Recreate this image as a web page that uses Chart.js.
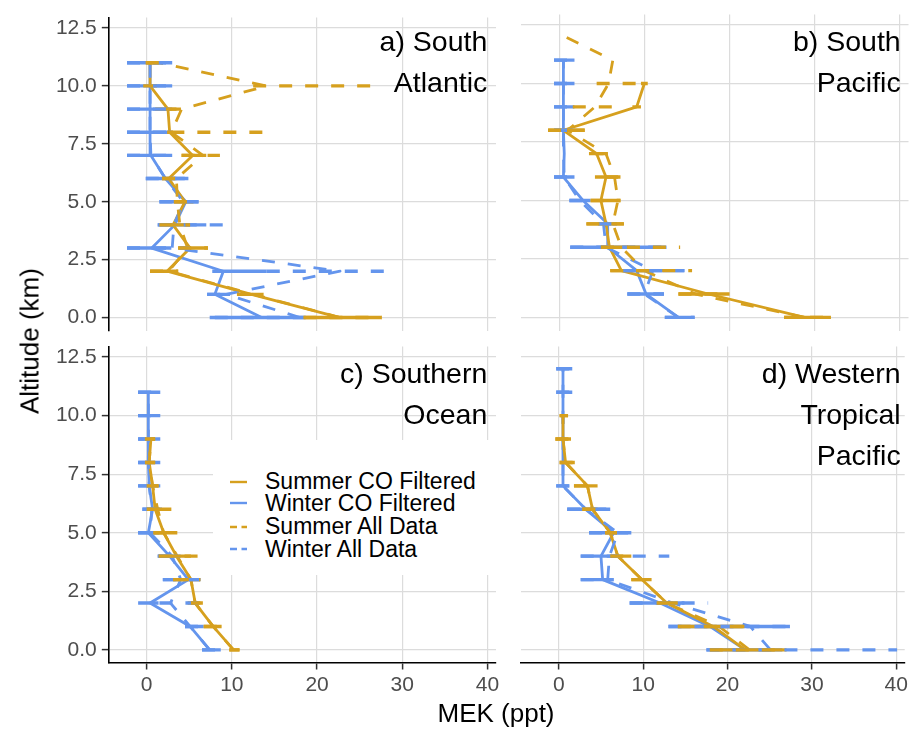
<!DOCTYPE html>
<html lang="en">
<head>
<meta charset="UTF-8">
<title>MEK vertical profiles</title>
<script src="https://cdn.jsdelivr.net/npm/chart.js"></script>
<style>
  body { margin: 0; background: #fff; font-family: "Liberation Sans", Arial, sans-serif; }
  #fig { position: relative; width: 911px; height: 740px; overflow: hidden; }
  #fig canvas { position: absolute; left: 0; top: 0; }
  .tag { position: absolute; text-align: right; font-size: 28.5px; line-height: 41px; color: #000; white-space: nowrap; }
  #ytitle { position: absolute; left: 30px; top: 341px; transform: translate(-50%, -50%) rotate(-90deg); font-size: 26px; white-space: nowrap; color: #000; }
  #xtitle { position: absolute; left: 496px; top: 713px; transform: translate(-50%, -50%); font-size: 26px; white-space: nowrap; color: #000; }
  #legend { position: absolute; left: 213px; top: 440px; width: 284px; height: 135px; background: #fff; }
  .row { position: absolute; left: 0; height: 22.5px; display: flex; align-items: center; font-size: 23px; color: #000; white-space: nowrap; }
  .row svg { margin-left: 17px; margin-right: 18px; }
</style>
</head>
<body>
<div id="fig">
  <canvas id="pa" width="911" height="740"></canvas>
  <canvas id="pb" width="911" height="740"></canvas>
  <canvas id="pc" width="911" height="740"></canvas>
  <canvas id="pd" width="911" height="740"></canvas>
  <div id="ytitle">Altitude (km)</div>
  <div id="xtitle">MEK (ppt)</div>
  <div id="legend"></div>
</div>

<script>
// altitude bins (km); every series array below is indexed by these
const altitudes = [0, 1, 2, 3, 4, 5, 6, 7, 8, 9, 10, 11, 12];
const xTicks = [0, 10, 20, 30, 40];
const yTicks = [0, 2.5, 5, 7.5, 10, 12.5];
const seriesLabels = ['Summer CO Filtered', 'Winter CO Filtered', 'Summer All Data', 'Winter All Data'];
const panelTitles = [['a) South', 'Atlantic'], ['b) South', 'Pacific'], ['c) Southern', 'Ocean'], ['d) Western', 'Tropical', 'Pacific']];

// a) South Atlantic
const atlSumFilt   = [22.7, 12.3, 2.4, 5.1, 3.1, 4.5, 2.6, 5.4, 2.7, 2.5, 0.4, 0.4, null];
const atlSumFiltLo = [18.4, 10.6, 0.4, 3.7, 1.5, 3.2, 1.8, 4.1, 2.4, 1.0, -0.4, -0.1, null];
const atlSumFiltHi = [27.6, 13.7, 3.7, 7.2, 5.1, 5.5, 3.5, 7.0, 3.1, 3.5, 1.2, 1.5, null];
const atlWinFilt   = [13.5, 8.0, 9.0, 0.6, 3.3, 4.6, 2.2, 0.5, 0.4, 0.4, 0.4, 0.4, null];
const atlWinFiltLo = [7.4, 7.1, 7.7, -2.3, 1.3, 1.5, -0.1, -2.3, -2.3, -2.3, -2.3, -2.3, null];
const atlWinFiltHi = [18.4, 9.8, 14.1, 2.9, 7.0, 6.1, 4.9, 3.0, 3.0, 3.0, 3.0, 3.0, null];
const atlSumAll    = [22.7, 12.5, 2.6, 4.8, 3.9, 3.6, 3.5, 6.6, 2.9, 4.1, 14.1, 1.4, null];
const atlSumAllLo  = [18.4, 10.6, 0.4, 3.7, 1.5, 3.2, 1.8, 4.1, 2.9, 2.5, 12.5, -0.1, null];
const atlSumAllHi  = [27.6, 13.7, 3.7, 7.2, 5.1, 5.5, 3.5, 8.6, 14.9, 4.3, 26.5, 1.5, null];
const atlWinAll    = [18.0, 9.3, 22.7, 3.0, 3.2, 4.3, 2.2, 0.5, 0.4, 0.4, 0.4, 0.4, null];
const atlWinAllLo  = [8.0, 7.1, 14.1, -2.3, 1.3, 1.5, -0.1, -2.3, -2.3, -2.3, -2.3, -2.3, null];
const atlWinAllHi  = [19.0, 9.8, 28.2, 5.1, 9.6, 6.1, 4.9, 3.0, 3.0, 3.0, 3.0, 3.0, null];

// b) South Pacific
const pacSumFilt   = [28.8, 17.5, 7.3, 5.9, 5.5, 4.9, 5.5, 4.4, 0.5, 9.1, 10.0, null, null];
const pacSumFiltLo = [26.4, 14.0, 6.0, 4.9, 3.2, 3.7, 4.2, 3.5, -1.3, 8.6, 9.6, null, null];
const pacSumFiltHi = [31.9, 20.0, 10.0, 8.1, 7.6, 7.2, 7.2, 5.2, 3.0, 9.6, 10.4, null, null];
const pacWinFilt   = [14.0, 10.2, 9.1, 5.7, 5.7, 2.8, 0.5, 0.6, 0.5, 0.5, 0.5, 0.5, null];
const pacWinFiltLo = [12.4, 8.0, 7.5, 1.3, 4.6, 1.2, -0.6, null, -0.6, -0.6, -0.6, -0.6, null];
const pacWinFiltHi = [15.9, 12.3, 14.7, 12.6, 6.8, 3.7, 1.8, null, 1.8, 1.8, 1.8, 1.8, null];
const pacSumAll    = [28.8, 16.0, 10.0, 7.3, 6.3, 6.9, 6.5, 5.5, 1.0, 4.2, 5.8, 6.3, 0.7];
const pacSumAllLo  = [26.4, 14.0, 6.0, 4.9, 3.2, 3.7, 5.4, 4.2, -1.3, 1.6, 4.4, null, null];
const pacSumAllHi  = [31.9, 20.0, 15.6, 14.2, 7.6, 7.2, 7.2, 7.2, 3.0, 7.3, 10.0, null, null];
const pacWinAll    = [14.0, 10.0, 11.0, 5.5, 5.2, 2.4, 0.6, 0.5, 0.5, 0.5, 0.5, 0.5, null];
const pacWinAllLo  = [12.4, 8.0, 7.5, 1.3, 4.6, 1.2, -0.6, null, -0.6, -0.6, -0.6, -0.6, null];
const pacWinAllHi  = [15.9, 12.3, 14.7, 12.6, 6.8, 3.7, 1.8, null, 1.8, 1.8, 1.8, 1.8, null];

// c) Southern Ocean
const socSumFilt   = [10.2, 7.8, 5.7, 5.2, 3.5, 2.0, 1.0, 0.7, 0.3, 0.5, null, null, null];
const socSumFiltLo = [9.7, 6.7, 4.8, 3.1, 1.4, 0.8, 0.0, 0.0, -0.2, -0.2, null, null, null];
const socSumFiltHi = [10.9, 8.8, 6.6, 6.3, 5.2, 3.6, 2.9, 1.4, 1.0, 1.0, null, null, null];
const socWinFilt   = [7.4, 5.1, 0.4, 4.9, 2.7, 0.2, 0.7, 0.3, 0.2, 0.2, 0.2, 0.2, null];
const socWinFiltLo = [6.5, 4.5, -1.0, 1.9, 1.3, -1.0, -0.5, -1.0, -1.0, -1.0, -1.0, -1.0, null];
const socWinFiltHi = [8.7, 6.7, 1.4, 6.3, 4.0, 1.5, 1.8, 1.6, 1.6, 1.6, 1.6, 1.6, null];
const socSumAll    = [10.2, 7.8, 5.7, 5.2, 3.6, 2.0, 1.3, 0.7, 0.3, 0.5, null, null, null];
const socSumAllLo  = [9.7, 6.7, 5.2, 3.1, 1.4, 0.8, 0.0, 0.0, -0.2, -0.2, null, null, null];
const socSumAllHi  = [10.9, 8.8, 6.3, 6.3, 6.5, 3.6, 2.9, 1.4, 1.0, 1.0, null, null, null];
const socWinAll    = [7.4, 5.1, 2.8, 4.0, 3.0, 0.4, 0.6, 0.3, 0.2, 0.2, 0.2, 0.2, null];
const socWinAllLo  = [6.5, 4.5, 1.5, 1.9, 1.3, -1.0, -0.5, -1.0, -1.0, -1.0, -1.0, -1.0, null];
const socWinAllHi  = [8.7, 6.7, 7.4, 6.3, 4.0, 1.5, 1.8, 1.6, 1.6, 1.6, 1.6, 1.6, null];

// d) Western Tropical Pacific
const wtpSumFilt   = [22.1, 18.3, 12.8, 9.85, 7.0, 6.1, 4.0, 3.4, 0.8, 0.5, 0.5, null, null];
const wtpSumFiltLo = [17.9, 14.1, 11.6, 8.6, 6.1, 5.5, 2.8, 1.8, 0.1, -0.4, 0.1, null, null];
const wtpSumFiltHi = [27.0, 22.0, 14.1, 11.0, 8.6, 6.9, 4.6, 4.6, 1.9, 1.45, 1.1, null, null];
const wtpWinFilt   = [22.1, 17.9, 12.0, 5.2, 5.0, 6.5, 3.2, 0.5, 0.5, 0.5, 0.5, 0.5, 0.5];
const wtpWinFiltLo = [17.5, 13.0, 8.4, 2.6, 2.6, 3.6, 1.0, -0.3, null, null, null, -0.3, -0.3];
const wtpWinFiltHi = [26.5, 27.4, 14.9, 6.5, 7.0, 8.6, 6.1, 1.25, null, null, null, 1.6, 1.6];
const wtpSumAll    = [22.6, 19.0, 12.8, 9.85, 7.0, 6.1, 4.0, 3.4, 0.8, 0.5, 0.5, null, null];
const wtpSumAllLo  = [17.9, 14.1, 11.6, 8.6, 6.1, 5.5, 2.8, 1.8, 0.1, -0.4, 0.1, null, null];
const wtpSumAllHi  = [27.0, 22.0, 14.1, 11.0, 8.6, 6.9, 4.6, 4.6, 1.9, 1.45, 1.1, null, null];
const wtpWinAll    = [25.1, 22.7, 13.5, 5.8, 6.0, 7.0, 3.2, 0.5, 0.5, 0.5, 0.5, 0.5, 0.5];
const wtpWinAllLo  = [17.5, 13.0, 8.4, 2.6, 2.6, 3.6, 1.0, -0.3, null, null, null, -0.3, -0.3];
const wtpWinAllHi  = [40.1, 27.4, 17.7, 6.5, 13.1, 8.6, 6.1, 1.25, null, null, null, 1.6, 1.6];

const panelSeries = [
  [[atlSumFilt, atlSumFiltLo, atlSumFiltHi], [atlWinFilt, atlWinFiltLo, atlWinFiltHi],
   [atlSumAll, atlSumAllLo, atlSumAllHi], [atlWinAll, atlWinAllLo, atlWinAllHi]],
  [[pacSumFilt, pacSumFiltLo, pacSumFiltHi], [pacWinFilt, pacWinFiltLo, pacWinFiltHi],
   [pacSumAll, pacSumAllLo, pacSumAllHi], [pacWinAll, pacWinAllLo, pacWinAllHi]],
  [[socSumFilt, socSumFiltLo, socSumFiltHi], [socWinFilt, socWinFiltLo, socWinFiltHi],
   [socSumAll, socSumAllLo, socSumAllHi], [socWinAll, socWinAllLo, socWinAllHi]],
  [[wtpSumFilt, wtpSumFiltLo, wtpSumFiltHi], [wtpWinFilt, wtpWinFiltLo, wtpWinFiltHi],
   [wtpSumAll, wtpSumAllLo, wtpSumAllHi], [wtpWinAll, wtpWinAllLo, wtpWinAllHi]]
];

const gold = '#D6A01E', blue = '#6495ED';
const seriesColors = [gold, blue, gold, blue];
const seriesDashed = [false, false, true, true];
// ggplot-like stacking: winter under summer, filtered under all-data, paths under bars
const lineOrder = [7, 8, 5, 6];
const barOrder = [3, 4, 1, 2];
const font = '"Liberation Sans", Arial, sans-serif';

// plot area of each panel in page pixels
const boxes = [
  { left: 108.3, right: 496, top: 14.5, bottom: 330.5, yAxis: true, xAxis: false, id: 'pa' },
  { left: 520.8, right: 908.5, top: 14.5, bottom: 330.5, yAxis: false, xAxis: false, id: 'pb' },
  { left: 108.3, right: 496, top: 346.5, bottom: 663, yAxis: true, xAxis: true, id: 'pc' },
  { left: 520.8, right: 908.5, top: 346.5, bottom: 663, yAxis: false, xAxis: true, id: 'pd' }
];

function linePoints(vals) {
  const pts = [];
  altitudes.forEach((a, i) => { if (vals[i] != null) pts.push({ x: vals[i], y: a }); });
  return pts;
}

function barPoints(lo, hi) {
  const pts = [];
  altitudes.forEach((a, i) => {
    if (lo[i] == null || hi[i] == null) return;
    pts.push({ x: lo[i], y: a }, { x: hi[i], y: a }, { x: null, y: null });
  });
  return pts;
}

function makePanel(p, series) {
  const datasets = [];
  series.forEach((s, k) => {
    const dash = seriesDashed[k];
    datasets.push({
      label: seriesLabels[k],
      data: linePoints(s[0]),
      showLine: true, borderColor: seriesColors[k], borderWidth: 2.8,
      borderDash: dash ? [13, 13] : [], borderJoinStyle: 'round',
      pointRadius: 0, pointHoverRadius: 0, order: lineOrder[k]
    });
    datasets.push({
      label: seriesLabels[k] + ' error',
      data: barPoints(s[1], s[2]),
      showLine: true, spanGaps: false, borderColor: seriesColors[k], borderWidth: 3.4,
      borderDash: dash ? [13, 13] : [],
      pointRadius: 0, pointHoverRadius: 0, order: barOrder[k]
    });
  });

  const xH = 40;
  new Chart(document.getElementById(p.id), {
    type: 'scatter',
    data: { datasets },
    options: {
      responsive: false,
      animation: false,
      devicePixelRatio: 1,
      layout: {
        padding: {
          left: p.yAxis ? 0 : p.left,
          right: 911 - p.right,
          top: p.top,
          bottom: p.xAxis ? 740 - p.bottom - xH : 740 - p.bottom
        }
      },
      plugins: { legend: { display: false }, tooltip: { enabled: false } },
      scales: {
        x: {
          type: 'linear', min: -4.5, max: 41,
          afterBuildTicks: s => { s.ticks = xTicks.map(v => ({ value: v })); },
          afterFit: s => { s.height = p.xAxis ? xH : 0; },
          grid: { color: '#DCDCDC', lineWidth: 1.2, drawTicks: p.xAxis, tickLength: 6.5, tickColor: '#333', tickWidth: 1.5 },
          border: { display: p.xAxis, color: '#000', width: 1.6 },
          ticks: { display: p.xAxis, color: '#4D4D4D', font: { family: font, size: 21 }, padding: 3,
                   maxRotation: 0, minRotation: 0, autoSkip: false, callback: v => String(v) }
        },
        y: {
          type: 'linear', min: -0.56, max: 12.95,
          afterBuildTicks: s => { s.ticks = yTicks.map(v => ({ value: v })); },
          afterFit: s => { s.width = p.yAxis ? p.left : 0; },
          grid: { color: '#DCDCDC', lineWidth: 1.2, drawTicks: p.yAxis, tickLength: 6.5, tickColor: '#333', tickWidth: 1.5 },
          border: { display: p.yAxis, color: '#000', width: 1.6 },
          ticks: { display: p.yAxis, color: '#4D4D4D', font: { family: font, size: 21 }, padding: 5,
                   autoSkip: false, callback: v => v.toFixed(1) }
        }
      }
    }
  });
}

boxes.forEach((p, i) => makePanel(p, panelSeries[i]));

// panel titles, right aligned at x = 40
const fig = document.getElementById('fig');
const tagPos = [
  { right: 911 - 487.3, top: 20.5 },
  { right: 911 - 900.7, top: 20.5 },
  { right: 911 - 487.3, top: 352.5 },
  { right: 911 - 900.7, top: 352.5 }
];
panelTitles.forEach((lines, i) => {
  const d = document.createElement('div');
  d.className = 'tag';
  d.style.right = tagPos[i].right + 'px';
  d.style.top = tagPos[i].top + 'px';
  d.innerHTML = lines.join('<br>');
  fig.appendChild(d);
});

// legend inside panel c
const legend = document.getElementById('legend');
const rowTops = [30.5, 52, 75.5, 98];
seriesLabels.forEach((name, k) => {
  const r = document.createElement('div');
  r.className = 'row';
  r.style.top = rowTops[k] + 'px';
  const dash = seriesDashed[k] ? ' stroke-dasharray="7 4.5"' : '';
  r.innerHTML = '<svg width="17" height="6"><line x1="0" y1="3" x2="17" y2="3" stroke="' +
    seriesColors[k] + '" stroke-width="2.4"' + dash + '/></svg><span>' + name + '</span>';
  legend.appendChild(r);
});
</script>
</body>
</html>
